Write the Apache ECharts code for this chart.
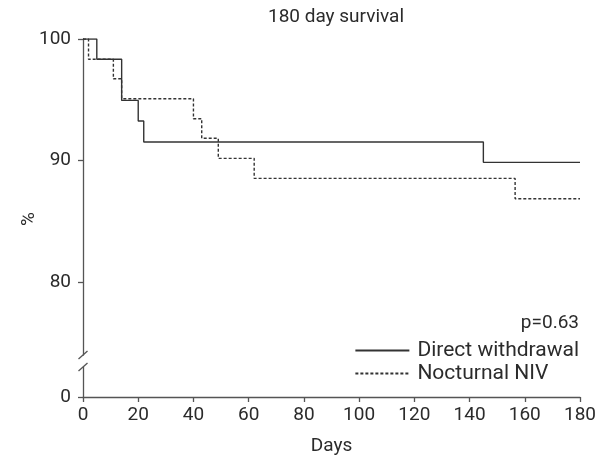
<!DOCTYPE html>
<html lang="en">
<head>
<meta charset="UTF-8">
<title>180 day survival</title>
<script src="https://cdn.jsdelivr.net/npm/echarts@6/dist/echarts.min.js"></script>
<style>html,body{margin:0;background:#fff;}</style>
</head>
<body>
<div id="main" style="width:611px;height:457px;"></div>
<script>
// survival curves (days, % surviving)
var daysDirect = [0, 5, 14, 20, 22, 145, 180];
var survDirect = [100, 98.33, 94.95, 93.25, 91.52, 89.85, 89.85];
var daysNiv = [0, 2, 11, 14, 40, 43, 49, 62, 156.5, 180];
var survNiv = [100, 98.33, 96.73, 95.09, 93.44, 91.83, 90.18, 88.53, 86.86, 86.86];
var yTicksTop = [80, 90, 100];
var yTicksBottom = [0];
var seriesNames = ['Direct withdrawal', 'Nocturnal NIV'];

var txt = '#2b2b2b';
var axisCol = '#555';
var fnt = 'Roboto';

function pairs(xs, ys) {
    return xs.map(function (x, i) { return [x, ys[i]]; });
}

var chart = echarts.init(document.getElementById('main'));
var option = {
    animation: false,
    textStyle: {fontFamily: fnt, color: txt},
    title: [
        {text: '180 day survival', left: 331, textAlign: 'center', top: 3,
         textStyle: {fontSize: 19, fontWeight: 'normal', color: txt, fontFamily: fnt}},
        {text: 'p=0.63', right: 27, top: 309,
         textStyle: {fontSize: 19, fontWeight: 'normal', color: txt, fontFamily: fnt}}
    ],
    legend: {
        orient: 'vertical', right: 27, top: 335,
        itemWidth: 54, itemHeight: 14, itemGap: 2,
        data: seriesNames,
        itemStyle: {opacity: 0},
        textStyle: {fontSize: 21, color: txt, fontFamily: fnt, padding: [0, 0, 0, 3]}
    },
    grid: [
        {left: 83, right: 31, top: 39, height: 316},
        {left: 83, right: 31, top: 367, height: 30}
    ],
    xAxis: [
        {gridIndex: 0, type: 'value', min: 0, max: 180, show: false},
        {gridIndex: 1, type: 'value', min: 0, max: 180, interval: 20,
         name: 'Days', nameLocation: 'middle', nameGap: 40,
         nameTextStyle: {fontSize: 19, color: txt},
         axisLine: {lineStyle: {color: axisCol, width: 1.3}},
         axisTick: {length: 5, lineStyle: {color: axisCol, width: 1.3}},
         axisLabel: {fontSize: 19, color: txt, margin: 9},
         splitLine: {show: false}}
    ],
    yAxis: [
        {gridIndex: 0, type: 'value', min: 74, max: 100,
         axisLine: {show: true, lineStyle: {color: axisCol, width: 1.3}},
         axisTick: {show: true, length: 5, customValues: yTicksTop, lineStyle: {color: axisCol, width: 1.3}},
         axisLabel: {fontSize: 19, color: txt, margin: 12, customValues: yTicksTop},
         splitLine: {show: false}},
        {gridIndex: 1, type: 'value', min: 0, max: 2.5,
         axisLine: {show: true, lineStyle: {color: axisCol, width: 1.3}},
         axisTick: {show: true, length: 5, customValues: yTicksBottom, lineStyle: {color: axisCol, width: 1.3}},
         axisLabel: {fontSize: 19, color: txt, margin: 12, customValues: yTicksBottom},
         splitLine: {show: false}}
    ],
    series: [
        {name: seriesNames[0], type: 'line', step: 'end', xAxisIndex: 0, yAxisIndex: 0,
         showSymbol: false, symbol: 'none',
         data: pairs(daysDirect, survDirect),
         lineStyle: {color: '#333', width: 1.4, type: 'solid'},
         itemStyle: {color: '#333'}},
        {name: seriesNames[1], type: 'line', step: 'end', xAxisIndex: 0, yAxisIndex: 0,
         showSymbol: false, symbol: 'none',
         data: pairs(daysNiv, survNiv),
         lineStyle: {color: '#333', width: 1.4, type: [3, 2]},
         itemStyle: {color: '#333'}}
    ]
};
chart.setOption(option);

// axis break marks and y axis name
var pTop = chart.convertToPixel({gridIndex: 0}, [0, 74]);
var pBot = chart.convertToPixel({gridIndex: 1}, [0, 2.5]);
chart.setOption({
    graphic: [
        {type: 'line', shape: {x1: pTop[0] - 4.5, y1: pTop[1] + 4, x2: pTop[0] + 4.5, y2: pTop[1] - 4},
         style: {stroke: axisCol, lineWidth: 1.3}},
        {type: 'line', shape: {x1: pBot[0] - 4.5, y1: pBot[1] + 4, x2: pBot[0] + 4.5, y2: pBot[1] - 4},
         style: {stroke: axisCol, lineWidth: 1.3}},
        {type: 'text', x: 29, y: 219, rotation: Math.PI / 2,
         style: {text: '%', fontSize: 19, fill: txt, fontFamily: fnt, align: 'center', verticalAlign: 'middle'}}
    ]
});
</script>
</body>
</html>
